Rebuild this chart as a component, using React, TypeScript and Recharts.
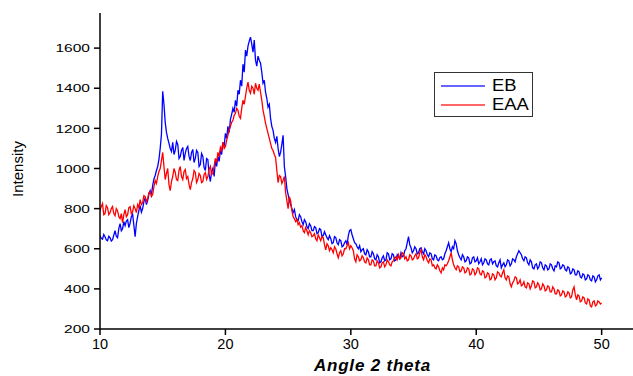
import { LineChart, Line, XAxis, YAxis, Legend, Label } from "recharts";

// scan grid: 10 to 50 degrees, 0.1 step
const scanStart = 10;
const scanStep = 0.1;

const ebCounts = [
  665, 652, 648, 671, 660, 644, 640, 662, 655, 638,
  645, 668, 690, 662, 655, 700, 725, 690, 700, 735,
  715, 738, 745, 705, 728, 760, 772, 718, 660, 725,
  760, 790, 815, 782, 800, 835, 855, 820, 840, 872,
  890, 870, 915, 948, 965, 990, 1010, 1045, 1100, 1170,
  1385, 1320, 1230, 1180, 1150, 1125, 1100, 1085, 1130, 1070,
  1090, 1135, 1120, 1050, 1060, 1090, 1105, 1040, 1075, 1100,
  1110, 1060, 1040, 1080, 1095, 1030, 1050, 1090, 1080, 1010,
  1020, 1075, 1060, 1005, 990, 1050, 1045, 970, 935, 985,
  1000, 960, 1040, 1010, 1060, 1035, 1090, 1070, 1130, 1110,
  1175, 1150, 1210, 1180, 1245, 1270, 1300, 1280, 1340, 1310,
  1390, 1370, 1440, 1410, 1520, 1480, 1590, 1560, 1610, 1635,
  1655, 1620, 1580, 1640, 1540, 1510, 1560, 1540, 1525, 1480,
  1425, 1440, 1380, 1350, 1306, 1320, 1250, 1210, 1190, 1150,
  1130, 1160, 1100, 1060, 1080, 1120, 1165, 1010, 960, 900,
  870, 840, 820, 800, 780, 795, 760, 745, 740, 770,
  760, 735, 720, 745, 735, 710, 700, 725, 715, 690,
  690, 710, 705, 675, 680, 700, 695, 660, 665, 685,
  670, 655, 645, 665, 650, 625, 630, 660, 655, 630,
  620, 645, 640, 610, 615, 630, 640, 620, 665, 690,
  695, 670, 650, 630, 625, 610, 600, 615, 585, 595,
  600, 575, 570, 595, 585, 560, 560, 585, 575, 550,
  545, 570, 560, 530, 535, 555, 565, 540, 545, 580,
  575, 545, 550, 575, 570, 540, 545, 570, 560, 550,
  580, 560, 565, 590, 600, 630, 660, 620, 605, 580,
  590, 610, 600, 575, 580, 600, 605, 585, 575, 600,
  590, 570, 560, 580, 575, 550, 545, 570, 565, 545,
  540, 555, 560, 545, 550, 575, 590, 610, 630, 600,
  585, 610, 600, 640, 625, 590, 570, 555, 545, 570,
  560, 535, 540, 560, 555, 525, 530, 555, 560, 535,
  540, 555, 525, 535, 550, 520, 530, 550, 545, 525,
  520, 545, 550, 525, 535, 540, 515, 510, 530, 545,
  505, 520, 530, 510, 520, 545, 540, 515, 525, 550,
  545, 535, 560, 575, 590, 580, 570, 550, 540, 560,
  555, 530, 520, 545, 535, 505, 500, 520, 525, 500,
  510, 535, 530, 505, 495, 520, 515, 495, 500, 525,
  520, 500, 490, 515, 510, 535, 530, 500, 505, 520,
  515, 495, 490, 510, 505, 475, 480, 500, 495, 470,
  470, 490, 485, 460, 455, 475, 470, 445, 450, 470,
  465, 445, 440, 465, 460, 435, 445, 465, 470, 445,
  455,
];

const eaaCounts = [
  790, 810, 825, 770, 775, 815, 805, 770, 780, 800,
  810, 775, 765, 800, 790, 760, 750, 775, 730, 770,
  795, 760, 770, 805, 810, 775, 785, 815, 800, 780,
  820, 805, 845, 820, 830, 865, 860, 835, 850, 880,
  885, 860, 870, 910, 940, 925, 960, 985, 1000, 1040,
  1080, 1010, 945, 975, 1000, 920, 890, 935, 960, 1000,
  980, 945, 940, 990, 1010, 960, 945, 985, 995, 950,
  960, 920, 895, 930, 950, 990, 980, 930, 945, 975,
  965, 930, 935, 970, 980, 945, 960, 995, 1010, 970,
  975, 1010, 1050, 1030, 1080, 1060, 1105, 1090, 1130, 1100,
  1110, 1140, 1165, 1190, 1210, 1230, 1240, 1265, 1275, 1300,
  1290, 1260, 1250, 1300, 1340, 1320, 1360, 1400, 1430, 1390,
  1375, 1410, 1400, 1370, 1425, 1400, 1390, 1420, 1380, 1340,
  1290, 1260, 1225, 1200, 1175, 1150, 1125, 1100, 1090, 1070,
  1055, 990, 930, 965, 960, 925, 940, 960, 880, 840,
  800, 860, 840, 790, 760, 750, 735, 745, 720, 730,
  708, 715, 690, 680, 705, 690, 670, 690, 680, 660,
  665, 675, 650, 640, 670, 655, 640, 660, 655, 620,
  595, 625, 615, 590, 605, 595, 580, 610, 600, 575,
  555, 580, 590, 565, 575, 600, 600, 615, 630, 600,
  615, 605, 590, 550, 535, 570, 560, 540, 545, 565,
  555, 535, 530, 555, 545, 520, 520, 545, 540, 515,
  515, 540, 530, 505, 510, 530, 535, 510, 520, 545,
  535, 520, 515, 535, 540, 555, 560, 545, 570, 550,
  555, 580, 575, 550, 560, 540, 545, 570, 565, 545,
  550, 565, 575, 550, 555, 580, 595, 560, 545, 570,
  560, 540, 530, 550, 545, 515, 520, 505, 500, 520,
  510, 490, 480, 505, 495, 520, 515, 525, 540, 560,
  580, 545, 520, 505, 495, 515, 510, 485, 490, 510,
  505, 480, 485, 505, 500, 470, 475, 500, 495, 470,
  480, 505, 500, 475, 470, 490, 485, 455, 460, 480,
  475, 445, 450, 475, 470, 445, 455, 485, 480, 465,
  460, 480, 495, 455, 445, 465, 460, 425, 410, 430,
  440, 460, 455, 425, 430, 445, 415, 420, 435, 410,
  405, 430, 425, 400, 415, 440, 435, 405, 410, 430,
  420, 395, 400, 425, 415, 390, 395, 415, 410, 385,
  385, 410, 400, 375, 375, 395, 390, 365, 370, 390,
  385, 360, 365, 385, 380, 355, 360, 395, 410, 370,
  345, 370, 365, 335, 340, 360, 355, 330, 325, 350,
  345, 315, 310, 335, 340, 315, 320, 340, 335, 325,
  330,
];

const xTicks = [10, 20, 30, 40, 50];
const yTicks = [200, 400, 600, 800, 1000, 1200, 1400, 1600];

const series = [
  { key: "eb", name: "EB", color: "#0000ff" },
  { key: "eaa", name: "EAA", color: "#ff0000" },
];

const data = ebCounts.map((v, i) => ({
  angle: +(scanStart + i * scanStep).toFixed(1),
  eb: v,
  eaa: eaaCounts[i],
}));

const font = "Arial, 'Liberation Sans', sans-serif";

// the y tick numbers in the original are stretched sideways
function YTick({ x, y, payload }: any) {
  return (
    <g transform={`translate(${x},${y})`}>
      <text transform="scale(1.35,1)" textAnchor="end" dy="0.36em" fontSize={11.5} fontFamily={font} fill="#000">
        {payload.value}
      </text>
    </g>
  );
}

function LegendBox() {
  return (
    <div
      style={{
        border: "1px solid #333",
        width: 99,
        height: 45,
        background: "#fff",
        fontFamily: font,
        fontSize: 16,
        boxSizing: "border-box",
        paddingTop: 3,
      }}
    >
      {series.map((s) => (
        <div key={s.key} style={{ display: "flex", alignItems: "center", height: 19 }}>
          <div style={{ width: 44, height: 2, background: s.color, opacity: 0.6, marginLeft: 6, marginRight: 7 }} />
          <span style={{ color: "#000", display: "inline-block", transform: "scaleX(1.15)", transformOrigin: "left" }}>
            {s.name}
          </span>
        </div>
      ))}
    </div>
  );
}

export default function App() {
  return (
    <div style={{ position: "absolute", left: 0, top: 0, background: "#fff" }}>
      <LineChart width={633} height={376} data={data} margin={{ top: 13, right: 0, bottom: 0, left: 0 }}>
        <XAxis
          dataKey="angle"
          type="number"
          domain={[10, 52.5]}
          ticks={xTicks}
          allowDataOverflow
          height={47}
          tickSize={6}
          tickMargin={4}
          stroke="#000"
          strokeWidth={1.5}
          tick={{ fill: "#000", fontSize: 14.5, fontFamily: font }}
        >
          <Label
            content={({ viewBox }: any) => (
              <text
                x={viewBox.x + viewBox.width / 2 + 6}
                y={viewBox.y + viewBox.height - 5}
                textAnchor="middle"
                fontFamily={font}
                fontSize={17}
                fontWeight="bold"
                fontStyle="italic"
                letterSpacing={0.8}
                fill="#000"
              >
                Angle 2 theta
              </text>
            )}
          />
        </XAxis>
        <YAxis
          type="number"
          domain={[200, 1775]}
          ticks={yTicks}
          allowDataOverflow
          width={100}
          tickSize={6}
          tickMargin={4}
          stroke="#000"
          strokeWidth={1.5}
          tick={<YTick />}
        >
          <Label
            content={({ viewBox }: any) => {
              const cx = viewBox.x + 23;
              const cy = viewBox.y + viewBox.height / 2 - 2;
              return (
                <text
                  x={cx}
                  y={cy}
                  transform={`rotate(-90 ${cx} ${cy})`}
                  textAnchor="middle"
                  fontFamily={font}
                  fontSize={15}
                  fill="#000"
                >
                  Intensity
                </text>
              );
            }}
          />
        </YAxis>
        <Legend
          layout="vertical"
          verticalAlign="middle"
          align="center"
          wrapperStyle={{ left: 434, top: 72, width: "auto" }}
          content={() => <LegendBox />}
        />
        {series.map((s) => (
          <Line
            key={s.key}
            dataKey={s.key}
            name={s.name}
            type="linear"
            stroke={s.color}
            strokeWidth={1.3}
            dot={false}
            isAnimationActive={false}
          />
        ))}
      </LineChart>
    </div>
  );
}
